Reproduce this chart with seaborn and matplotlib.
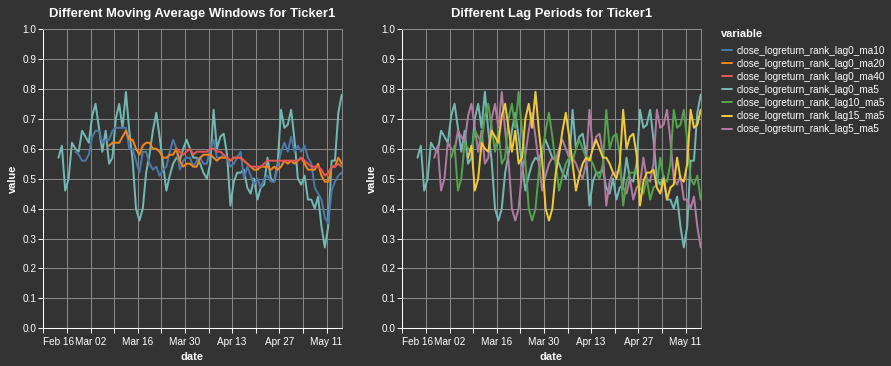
import numpy as np
import pandas as pd
import matplotlib
matplotlib.use("Agg")
import matplotlib.pyplot as plt
from matplotlib.lines import Line2D
from matplotlib.ticker import FormatStrFormatter
import seaborn as sns

# daily rows, Feb 16 -> May 15
dates = pd.date_range("2025-02-16 12:00", periods=89, freq="D")

# rolling-mean rank series (leading NaNs dropped)
ma5 = [0.57, 0.61, 0.46, 0.50, 0.62, 0.60, 0.59, 0.66, 0.64, 0.62,
       0.71, 0.75, 0.67, 0.59, 0.66, 0.55, 0.57, 0.70, 0.75, 0.67,
       0.79, 0.66, 0.56, 0.40, 0.36, 0.40, 0.52, 0.58, 0.66, 0.72,
       0.64, 0.55, 0.46, 0.51, 0.55, 0.57, 0.56, 0.60, 0.63, 0.60,
       0.57, 0.57, 0.55, 0.52, 0.50, 0.55, 0.73, 0.60, 0.64, 0.65,
       0.58, 0.41, 0.49, 0.52, 0.52, 0.53, 0.47, 0.45, 0.50, 0.43,
       0.47, 0.48, 0.57, 0.50, 0.49, 0.55, 0.73, 0.67, 0.68, 0.73,
       0.63, 0.50, 0.48, 0.51, 0.43, 0.43, 0.40, 0.44, 0.34, 0.27,
       0.34, 0.56, 0.56, 0.72, 0.78]
ma10 = [0.59, 0.58, 0.56, 0.56, 0.58, 0.64, 0.66, 0.66, 0.62, 0.63,
        0.63, 0.66, 0.67, 0.67, 0.67, 0.67, 0.60, 0.60, 0.56, 0.52,
        0.59, 0.59, 0.55, 0.53, 0.54, 0.51, 0.53, 0.54, 0.59, 0.63,
        0.60, 0.53, 0.56, 0.57, 0.57, 0.54, 0.56, 0.57, 0.55, 0.55,
        0.60, 0.63, 0.57, 0.57, 0.58, 0.57, 0.54, 0.55, 0.57, 0.59,
        0.50, 0.54, 0.51, 0.48, 0.50, 0.47, 0.50, 0.51, 0.49, 0.49,
        0.54, 0.59, 0.62, 0.59, 0.64, 0.59, 0.61, 0.59, 0.61, 0.57,
        0.55, 0.47, 0.45, 0.43, 0.37, 0.35, 0.46, 0.49, 0.51, 0.52]
ma20 = [0.61, 0.62, 0.62, 0.62, 0.64, 0.66, 0.63, 0.63, 0.60, 0.58,
        0.61, 0.62, 0.62, 0.60, 0.60, 0.59, 0.57, 0.57, 0.58, 0.58,
        0.60, 0.56, 0.54, 0.55, 0.55, 0.54, 0.54, 0.57, 0.58, 0.58,
        0.58, 0.57, 0.56, 0.57, 0.57, 0.57, 0.56, 0.57, 0.57, 0.57,
        0.56, 0.55, 0.54, 0.53, 0.53, 0.54, 0.54, 0.54, 0.53, 0.54,
        0.53, 0.54, 0.56, 0.55, 0.56, 0.55, 0.56, 0.57, 0.55, 0.53,
        0.53, 0.53, 0.55, 0.51, 0.49, 0.49, 0.54, 0.54, 0.57, 0.55]
ma40 = [0.60, 0.59, 0.58, 0.59, 0.60, 0.58, 0.59, 0.59, 0.59, 0.59,
        0.60, 0.60, 0.59, 0.59, 0.58, 0.57, 0.56, 0.57, 0.57, 0.57,
        0.56, 0.55, 0.54, 0.54, 0.54, 0.54, 0.55, 0.56, 0.56, 0.56,
        0.56, 0.56, 0.56, 0.56, 0.56, 0.56, 0.56, 0.57, 0.56, 0.55,
        0.54, 0.54, 0.54, 0.53, 0.51, 0.52, 0.54, 0.54, 0.55, 0.54]
lags = [5, 10, 15]

variables = ["close_logreturn_rank_lag0_ma10", "close_logreturn_rank_lag0_ma20",
             "close_logreturn_rank_lag0_ma40", "close_logreturn_rank_lag0_ma5",
             "close_logreturn_rank_lag10_ma5", "close_logreturn_rank_lag15_ma5",
             "close_logreturn_rank_lag5_ma5"]
colors = ["#4c78a8", "#f58518", "#e45756", "#72b7b2", "#54a24b", "#eeca3b", "#b279a2"]
palette = dict(zip(variables, colors))

tick_dates = pd.date_range("2025-02-16", "2025-05-11", freq="7D")
tick_labels = ["Feb 16", "", "Mar 02", "", "Mar 16", "", "Mar 30", "",
               "Apr 13", "", "Apr 27", "", "May 11"]


def pad(vals):
    return [np.nan] * (len(dates) - len(vals)) + list(vals)


df = pd.DataFrame({"date": dates})
df["close_logreturn_rank_lag0_ma5"] = pad(ma5)
df["close_logreturn_rank_lag0_ma10"] = pad(ma10)
df["close_logreturn_rank_lag0_ma20"] = pad(ma20)
df["close_logreturn_rank_lag0_ma40"] = pad(ma40)
for lag in lags:
    df[f"close_logreturn_rank_lag{lag}_ma5"] = df["close_logreturn_rank_lag0_ma5"].shift(lag)
long = df.melt(id_vars="date").dropna()

bg = "#333333"
sns.set_style("dark", rc={"axes.facecolor": bg, "figure.facecolor": bg})
plt.rcParams["font.family"] = ["Liberation Sans", "DejaVu Sans"]

fig = plt.figure(figsize=(8.91, 3.66), dpi=100)
ax1 = fig.add_axes([43.3 / 891, 37.7 / 366, 298.4 / 891, 299.3 / 366])
ax2 = fig.add_axes([402.3 / 891, 37.7 / 366, 298.4 / 891, 299.3 / 366])

panels = [
    (ax1, "Different Moving Average Windows for Ticker1",
     ["close_logreturn_rank_lag0_ma5", "close_logreturn_rank_lag0_ma10",
      "close_logreturn_rank_lag0_ma20", "close_logreturn_rank_lag0_ma40"]),
    (ax2, "Different Lag Periods for Ticker1",
     ["close_logreturn_rank_lag0_ma5", "close_logreturn_rank_lag5_ma5",
      "close_logreturn_rank_lag10_ma5", "close_logreturn_rank_lag15_ma5"]),
]

for ax, title, cols in panels:
    sub = long[long["variable"].isin(cols)]
    sns.lineplot(data=sub, x="date", y="value", hue="variable", hue_order=cols,
                 palette=palette, linewidth=1.44, estimator=None, errorbar=None,
                 legend=False, ax=ax)
    ax.set_xlim(pd.Timestamp("2025-02-16"), dates[-1])
    ax.set_ylim(0, 1)
    ax.set_yticks(np.arange(0, 1.01, 0.1))
    ax.yaxis.set_major_formatter(FormatStrFormatter("%.1f"))
    ax.set_xticks(tick_dates)
    ax.set_xticklabels(tick_labels)
    ax.get_xticklabels()[0].set_horizontalalignment("left")
    ax.grid(True, color="#888888", linewidth=0.75)
    ax.set_axisbelow(True)
    ax.tick_params(axis="both", colors="white", labelcolor="white", labelsize=7.2,
                   length=3.6, width=0.75, pad=1.5, bottom=True, left=True)
    ax.tick_params(axis="x", pad=2.6)
    for side in ["left", "bottom"]:
        ax.spines[side].set_color("white")
        ax.spines[side].set_linewidth(0.75)
    for side in ["top", "right"]:
        ax.spines[side].set_color("#888888")
        ax.spines[side].set_linewidth(0.75)
        ax.spines[side].set_visible(True)
    ax.set_title(title, color="white", fontsize=9.4, fontweight="bold", pad=9)
    ax.set_xlabel("date", color="white", fontsize=7.9, fontweight="bold", labelpad=3.5)
    ax.set_ylabel("value", color="white", fontsize=7.9, fontweight="bold", labelpad=3)

fig.text(720.5 / 891, 1 - 36.7 / 366, "variable", color="white", fontsize=7.9,
         fontweight="bold", ha="left", va="baseline")
handles = [Line2D([], [], color=palette[v], linewidth=1.44) for v in variables]
leg = fig.legend(handles, variables, loc="upper left", bbox_to_anchor=(721.5 / 891, 1 - 45.5 / 366),
                 frameon=False, fontsize=7.2, handlelength=1.0, handletextpad=0.5,
                 labelspacing=0.31, borderpad=0, borderaxespad=0)
for t in leg.get_texts():
    t.set_color("white")

fig.savefig("out.png", dpi=100, facecolor=bg)
